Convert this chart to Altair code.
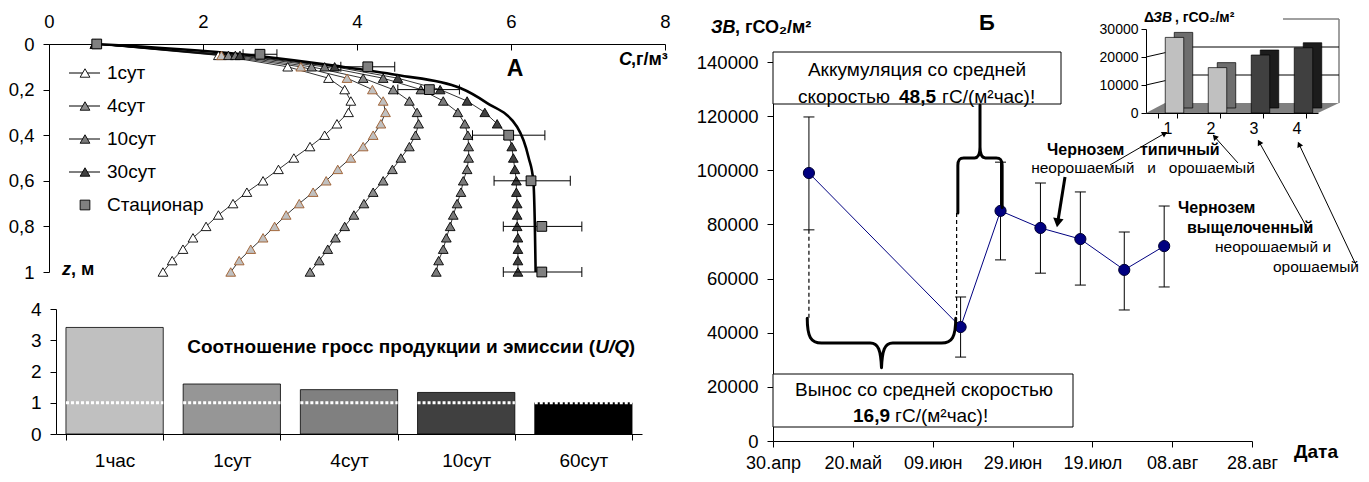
import math
import altair as alt
import pandas as pd

FONT = "Liberation Sans, Arial, DejaVu Sans, sans-serif"
W, H = 1353, 466
ONE = pd.DataFrame({"k": [0]})
NB = "\u00a0"

# ======================= DATA =======================
# Panel A: CO2 concentration C (g/m3) versus depth z (m)
depth_z = [0.0, 0.05, 0.10, 0.15, 0.20, 0.25, 0.30, 0.35, 0.40, 0.45, 0.50,
           0.55, 0.60, 0.65, 0.70, 0.75, 0.80, 0.85, 0.90, 0.95, 1.00]
conc_1sut = [0.6, 2.20, 3.10, 3.63, 3.84, 3.92, 3.89, 3.74, 3.58, 3.39, 3.18,
             2.98, 2.78, 2.57, 2.39, 2.20, 2.04, 1.87, 1.74, 1.60, 1.48]
conc_2sut = [0.6, 2.24, 3.27, 3.87, 4.20, 4.34, 4.37, 4.31, 4.21, 4.08, 3.92,
             3.75, 3.60, 3.43, 3.25, 3.08, 2.93, 2.78, 2.62, 2.47, 2.36]
conc_4sut = [0.6, 2.33, 3.41, 4.08, 4.47, 4.68, 4.78, 4.80, 4.76, 4.68, 4.57,
             4.46, 4.34, 4.21, 4.09, 3.96, 3.84, 3.72, 3.62, 3.51, 3.39]
conc_10sut = [0.6, 2.42, 3.58, 4.34, 4.83, 5.12, 5.31, 5.40, 5.44, 5.45, 5.45,
              5.43, 5.38, 5.35, 5.30, 5.25, 5.21, 5.16, 5.12, 5.06, 5.03]
conc_30sut = [0.6, 2.48, 3.71, 4.53, 5.08, 5.43, 5.66, 5.82, 5.97, 6.01, 6.03,
              6.05, 6.07, 6.07, 6.08, 6.08, 6.08, 6.09, 6.09, 6.09, 6.09]
profile_names = ["1сут", "2сут", "4сут", "10сут", "30сут"]
profile_fill = ["#ffffff", "#c0c0c0", "#8c8c8c", "#7a7a7a", "#404040"]
profile_edge = ["#000000", "#9c5a2a", "#000000", "#000000", "#000000"]

stat_curve_z = [0.0, 0.045, 0.095, 0.136, 0.193, 0.259, 0.364, 0.50, 0.60, 0.80, 1.00]
stat_curve_c = [0.6, 2.50, 3.70, 4.52, 5.34, 5.69, 6.08, 6.23, 6.29, 6.31, 6.32]

stat_obs_z = [0.0, 0.045, 0.10, 0.20, 0.40, 0.60, 0.80, 1.00]
stat_obs_c = [0.62, 2.74, 4.14, 4.94, 5.97, 6.26, 6.40, 6.40]
stat_obs_lo = [0.62, 2.52, 3.79, 4.53, 5.50, 5.78, 5.90, 5.90]
stat_obs_hi = [0.62, 2.96, 4.49, 5.33, 6.44, 6.77, 6.92, 6.92]

legend_names = ["1сут", "4сут", "10сут", "30сут", "Стационар"]
legend_fill = ["#ffffff", "#8c8c8c", "#7a7a7a", "#404040", "#808080"]
legend_shape = ["triangle-up", "triangle-up", "triangle-up", "triangle-up", "square"]

# Ratio of gross production to emission (U/Q)
ratio_cats = ["1час", "1сут", "4сут", "10сут", "60сут"]
ratio_vals = [3.41, 1.60, 1.42, 1.33, 1.00]
ratio_fill = ["#c0c0c0", "#969696", "#808080", "#404040", "#000000"]

# Panel B: CO2 stock
b_dates = ["2007-05-09", "2007-06-16", "2007-06-26", "2007-07-06",
           "2007-07-16", "2007-07-27", "2007-08-06"]
b_values = [99000, 42100, 85000, 78700, 74600, 63200, 72000]
b_lo = [78000, 31000, 66900, 62000, 57600, 48400, 56900]
b_hi = [119700, 53200, 103000, 95300, 92000, 77200, 86800]
b_tick_dates = ["2007-04-30", "2007-05-20", "2007-06-09", "2007-06-29",
                "2007-07-19", "2007-08-08", "2007-08-28"]
b_ticks_y = [0, 20000, 40000, 60000, 80000, 100000, 120000, 140000]
dash_dates = ["2007-05-09", "2007-06-15"]
dash_top = [78000, 84200]
dash_bottom = [45400, 45400]
month_ru = ["янв", "фев", "мар", "апр", "май", "июн",
            "июл", "авг", "сен", "окт", "ноя", "дек"]

# Inset: increment of CO2 stock
inset_cats = ["1", "2", "3", "4"]
inset_vals = [27000, 16200, 20700, 23300]
inset_front = ["#c0c0c0", "#c0c0c0", "#404040", "#404040"]
inset_side = ["#6e6e6e", "#6e6e6e", "#1c1c1c", "#1c1c1c"]
inset_grid = [10000, 20000]


# ======================= HELPERS =======================
def P(v):
    return v - 8


def ax(**kw):
    base = dict(title=None, grid=False, labelFont=FONT, labelColor="#000000",
                domainColor="#000000", tickColor="#000000", domainWidth=1,
                tickWidth=1, labelOverlap=False, labelFlush=False)
    base.update(kw)
    return alt.Axis(**base)


def text(s, x, y, size=18, weight="normal", style="normal", align="left", baseline="middle"):
    return alt.Chart(ONE).mark_text(
        text=s, font=FONT, fontSize=size, fontWeight=weight, fontStyle=style,
        align=align, baseline=baseline, color="#000000"
    ).encode(x=alt.value(P(x)), y=alt.value(P(y)))


def segment(x1, y1, x2, y2, width=1.0, color="#000000"):
    return alt.Chart(ONE).mark_rule(color=color, strokeWidth=width).encode(
        x=alt.value(P(x1)), y=alt.value(P(y1)), x2=alt.value(P(x2)), y2=alt.value(P(y2)))


def arrow(x1, y1, x2, y2, width=1.0, head=40):
    L = math.hypot(x2 - x1, y2 - y1)
    ux, uy = (x2 - x1) / L, (y2 - y1) / L
    r = math.sqrt(head) * 0.4
    cx, cy = x2 - ux * r, y2 - uy * r
    ang = math.degrees(math.atan2(x2 - x1, -(y2 - y1))) % 360
    tip = alt.Chart(ONE).mark_point(shape="triangle-up", filled=True, size=head, angle=ang,
                                    color="#000000", opacity=1).encode(
        x=alt.value(P(cx)), y=alt.value(P(cy)))
    return [segment(x1, y1, cx, cy, width), tip]


def box(x1, y1, x2, y2):
    return alt.Chart(ONE).mark_rect(fill="#ffffff", stroke="#000000", strokeWidth=1).encode(
        x=alt.value(P(x1)), x2=alt.value(P(x2)), y=alt.value(P(y1)), y2=alt.value(P(y2)))


def shape_at(path, cx, cy, side, width=3.0, fill=None):
    if fill:
        m = alt.Chart(ONE).mark_point(shape=path, size=side * side, filled=True, color=fill,
                                      opacity=1, strokeWidth=0)
    else:
        m = alt.Chart(ONE).mark_point(shape=path, size=side * side, filled=False,
                                      color="#000000", strokeWidth=width, opacity=1,
                                      strokeCap="round", strokeJoin="round")
    return m.encode(x=alt.value(P(cx)), y=alt.value(P(cy)))


def dt(s):
    y, m, d = (int(t) for t in s.split("-"))
    return alt.DateTime(year=y, month=m, date=d, utc=True)


layers = []

# ======================= PANEL A =======================
rows = []
for name, series in zip(profile_names, [conc_1sut, conc_2sut, conc_4sut, conc_10sut, conc_30sut]):
    for z, c in zip(depth_z, series):
        rows.append({"series": name, "z": z, "C": c})
prof_df = pd.DataFrame(rows)
stat_df = pd.DataFrame({"z": stat_curve_z, "C": stat_curve_c})
obs_df = pd.DataFrame({"z": stat_obs_z, "C": stat_obs_c, "lo": stat_obs_lo, "hi": stat_obs_hi})

xA = alt.Scale(domain=[0, 8], range=[P(49), P(665)], nice=False, zero=False)
yA = alt.Scale(domain=[0, 1], range=[P(44), P(272)], nice=False, zero=False)

zlab = ("datum.value == 0 ? '0' : datum.value == 1 ? '1' : "
        "replace(format(datum.value, '.1f'), '.', ',')")

layers.append(alt.Chart(prof_df).mark_line(color="#000000", strokeWidth=0.8).encode(
    x=alt.X("C:Q", scale=xA, axis=ax(orient="top", offset=-P(44), values=[0, 2, 4, 6, 8],
                                      ticks=False, labelFontSize=18.5, labelPadding=13)),
    y=alt.Y("z:Q", scale=yA, axis=ax(orient="left", offset=-P(49),
                                      values=[0, 0.2, 0.4, 0.6, 0.8, 1], labelExpr=zlab,
                                      tickSize=6, labelFontSize=18.5, labelPadding=9)),
    detail="series:N", order="z:Q"))
# downward tick marks of the top axis
layers.append(alt.Chart(obs_df).mark_point(opacity=0).encode(
    x=alt.X("C:Q", scale=xA, axis=ax(orient="bottom", offset=P(44) - H, values=[0, 2, 4, 6, 8],
                                      labels=False, domain=False, tickSize=6)),
    y=alt.Y("z:Q", scale=yA, axis=None)))
layers.append(alt.Chart(stat_df).mark_line(color="#000000", strokeWidth=2.6,
                                           interpolate="monotone").encode(
    x=alt.X("C:Q", scale=xA, axis=None), y=alt.Y("z:Q", scale=yA, axis=None), order="z:Q"))
layers.append(alt.Chart(prof_df).mark_point(shape="triangle-up", filled=True, size=95,
                                            strokeWidth=0.9, opacity=1).encode(
    x=alt.X("C:Q", scale=xA, axis=None), y=alt.Y("z:Q", scale=yA, axis=None),
    fill=alt.Fill("series:N", scale=alt.Scale(domain=profile_names, range=profile_fill), legend=None),
    stroke=alt.Stroke("series:N", scale=alt.Scale(domain=profile_names, range=profile_edge), legend=None)))
err_a = alt.Chart(obs_df).transform_filter("datum.hi > datum.lo")
layers.append(err_a.mark_rule(color="#000000", strokeWidth=1).encode(
    x=alt.X("lo:Q", scale=xA, axis=None), x2="hi:Q", y=alt.Y("z:Q", scale=yA, axis=None)))
layers.append(err_a.transform_fold(["lo", "hi"], as_=["end", "cv"]).mark_tick(
    orient="vertical", size=10, thickness=1, color="#000000", opacity=1).encode(
    x=alt.X("cv:Q", scale=xA, axis=None), y=alt.Y("z:Q", scale=yA, axis=None)))
layers.append(alt.Chart(obs_df).mark_square(size=95, fill="#808080", stroke="#000000",
                                            strokeWidth=1, opacity=1).encode(
    x=alt.X("C:Q", scale=xA, axis=None), y=alt.Y("z:Q", scale=yA, axis=None)))

# legend of panel A
leg_df = pd.DataFrame({"name": legend_names})
yLeg = alt.Scale(type="point", domain=legend_names, range=[P(73), P(205)], padding=0)
layers.append(alt.Chart(leg_df).transform_filter("datum.name != 'Стационар'").mark_rule(
    color="#000000", strokeWidth=1).encode(
    x=alt.value(P(69)), x2=alt.value(P(100)), y=alt.Y("name:N", scale=yLeg, axis=None)))
layers.append(alt.Chart(leg_df).mark_point(filled=True, size=95, stroke="#000000",
                                           strokeWidth=0.9, opacity=1).encode(
    x=alt.value(P(85)), y=alt.Y("name:N", scale=yLeg, axis=None),
    fill=alt.Fill("name:N", scale=alt.Scale(domain=legend_names, range=legend_fill), legend=None),
    shape=alt.Shape("name:N", scale=alt.Scale(domain=legend_names, range=legend_shape), legend=None)))
layers.append(alt.Chart(leg_df).mark_text(align="left", baseline="middle", font=FONT,
                                          fontSize=19, color="#000000").encode(
    x=alt.value(P(107)), y=alt.Y("name:N", scale=yLeg, axis=None), text="name:N"))

layers += [
    text("А", 515, 69, size=23, weight="bold", align="center"),
    text("C", 619, 60, size=18, weight="bold", style="italic"),
    text(NB + ",г/м³", 631, 60, size=18, weight="bold"),
    text("z", 62, 270, size=18, weight="bold", style="italic"),
    text(", м", 71, 270, size=18, weight="bold"),
]

# ======================= RATIO BARS =======================
ratio_df = pd.DataFrame({"cat": ratio_cats, "val": ratio_vals})
xR = alt.Scale(domain=ratio_cats, range=[P(56), P(642)], paddingInner=0.17, paddingOuter=0.085)
yR = alt.Scale(domain=[0, 4], range=[P(434), P(309)], nice=False, zero=False)
layers.append(alt.Chart(ratio_df).mark_bar(stroke="#000000", strokeWidth=0.8).encode(
    x=alt.X("cat:N", sort=ratio_cats, scale=xR,
            axis=ax(orient="bottom", offset=P(434) - H, tickBand="extent", tickSize=6,
                    labelFontSize=19, labelPadding=11, labelAngle=0)),
    y=alt.Y("val:Q", scale=yR, axis=ax(orient="left", offset=-P(56), values=[0, 1, 2, 3, 4],
                                        tickSize=6, labelFontSize=19, labelPadding=9)),
    fill=alt.Fill("cat:N", scale=alt.Scale(domain=ratio_cats, range=ratio_fill), legend=None)))
layers.append(alt.Chart(ratio_df).transform_calculate(one="1").mark_rule(
    color="#ffffff", strokeWidth=3, strokeDash=[3, 2]).encode(
    x=alt.X("cat:N", sort=ratio_cats, scale=xR, axis=None, bandPosition=0),
    x2=alt.X2("cat:N", bandPosition=1),
    y=alt.Y("one:Q", scale=yR, axis=None)))
layers += [
    text("Соотношение гросс продукции и эмиссии (", 595, 347, size=19, weight="bold", align="right"),
    text("U/Q", 629, 347, size=19, weight="bold", style="italic", align="right"),
    text(")", 635, 347, size=19, weight="bold", align="right"),
]

# ======================= PANEL B =======================
b_df = pd.DataFrame({"date": b_dates, "zb": b_values, "lo": b_lo, "hi": b_hi})
dash_df = pd.DataFrame({"date": dash_dates, "top": dash_top, "bottom": dash_bottom})
xB = alt.Scale(type="utc", domain=[dt(b_tick_dates[0]), dt(b_tick_dates[-1])],
               range=[P(773), P(1252)], nice=False)
yB = alt.Scale(domain=[0, 140000], range=[P(441), P(62)], nice=False, zero=False)
months_expr = "[" + ",".join("'%s'" % m for m in month_ru) + "]"
date_lab = "utcFormat(datum.value, '%d') + '.' + " + months_expr + "[utcmonth(datum.value)]"

# text boxes
layers += [box(773, 52, 1061, 104), box(773, 374, 1073, 427)]

layers.append(alt.Chart(dash_df).mark_rule(color="#000000", strokeWidth=1.2,
                                           strokeDash=[4, 3]).encode(
    x=alt.X("date:T", scale=xB, axis=None),
    y=alt.Y("top:Q", scale=yB, axis=None), y2="bottom:Q"))
layers.append(alt.Chart(b_df).mark_rule(color="#000000", strokeWidth=1).encode(
    x=alt.X("date:T", scale=xB,
            axis=ax(orient="bottom", offset=P(441) - H, values=[dt(d) for d in b_tick_dates],
                    labelExpr=date_lab, tickSize=6, labelFontSize=18, labelPadding=7)),
    y=alt.Y("lo:Q", scale=yB,
            axis=ax(orient="left", offset=-P(773), values=b_ticks_y, format="d",
                    tickSize=6, labelFontSize=18.5, labelPadding=9)),
    y2="hi:Q"))
layers.append(alt.Chart(b_df).transform_fold(["lo", "hi"], as_=["end", "ev"]).mark_tick(
    orient="horizontal", size=11, thickness=1, color="#000000", opacity=1).encode(
    x=alt.X("date:T", scale=xB, axis=None), y=alt.Y("ev:Q", scale=yB, axis=None)))
layers.append(alt.Chart(b_df).mark_line(color="#000080", strokeWidth=1).encode(
    x=alt.X("date:T", scale=xB, axis=None), y=alt.Y("zb:Q", scale=yB, axis=None)))
layers.append(alt.Chart(b_df).mark_point(filled=True, size=125, fill="#000080",
                                         stroke="#000033", strokeWidth=1, opacity=1).encode(
    x=alt.X("date:T", scale=xB, axis=None), y=alt.Y("zb:Q", scale=yB, axis=None)))

# curly braces
lower_brace = ("M-0.99,-0.33 C-0.99,-0.08 -0.94,0 -0.8,0 L-0.15,0 C-0.04,0 -0.01,0.1 0,0.33 "
               "C0.01,0.1 0.04,0 0.15,0 L0.8,0 C0.94,0 0.99,-0.08 0.99,-0.33")
upper_brace = ("M-0.41,1 L-0.41,0.12 C-0.41,0.02 -0.38,-0.02 -0.3,-0.02 L-0.1,-0.02 "
               "C-0.03,-0.02 0,-0.1 0,-0.22 L0,-1 M0,-0.22 C0,-0.1 0.03,-0.02 0.1,-0.02 "
               "L0.3,-0.02 C0.38,-0.02 0.41,0.02 0.41,0.12 L0.41,0.9")
layers += [shape_at(lower_brace, 881.5, 343, 150, width=3),
           shape_at(upper_brace, 980, 159, 108, width=3)]

layers += [
    text("Аккумуляция со средней", 917, 70, size=19, align="center"),
    text("скоростью", 798, 97, size=19),
    text("48,5", 899, 97, size=19, weight="bold"),
    text("гС/(м²час)!", 942, 97, size=19),
    text("Вынос со средней скоростью", 924, 390, size=19, align="center"),
    text("16,9", 853, 416, size=19, weight="bold"),
    text("гС/(м²час)!", 895, 416, size=19),
    text("ЗВ", 711, 28, size=18, weight="bold", style="italic"),
    text(", гСО₂/м²", 735, 28, size=18, weight="bold"),
    text("Б", 987, 23, size=22, weight="bold", align="center"),
    text("Дата", 1294, 452, size=19, weight="bold"),
    text("Чернозем", 1047, 150, size=16, weight="bold"),
    text("типичный", 1140, 150, size=16, weight="bold"),
    text("неорошаемый" + NB * 3 + "и" + NB * 3 + "орошаемый", 1143, 168, size=15.5, align="center"),
    text("Чернозем", 1178, 208, size=16, weight="bold"),
    text("выщелоченный", 1187, 228, size=16, weight="bold"),
    text("неорошаемый и", 1215, 247, size=15.5),
    text("орошаемый", 1273, 267, size=15.5),
]

# ======================= INSET =======================
inset_df = pd.DataFrame({"cat": inset_cats, "val": inset_vals})
grid_df = pd.DataFrame({"g": inset_grid})
xIn = alt.Scale(domain=inset_cats, range=[P(1146), P(1318)], paddingInner=0.57, paddingOuter=0.285)
yIn = alt.Scale(domain=[0, 30000], range=[P(113), P(29)], nice=False, zero=False)

floor_path = "M-1,0.052 L0.782,0.052 L1,-0.052 L-0.803,-0.052 Z"
layers.append(shape_at(floor_path, 1242.5, 108, 193, fill="#808080"))
layers += [segment(1283, 19, 1339, 19, 1.5, "#808080"), segment(1339, 19, 1339, 103, 1.5, "#808080")]
layers.append(alt.Chart(grid_df).mark_rule(color="#000000", strokeWidth=1, yOffset=-10).encode(
    x=alt.value(P(1190)), x2=alt.value(P(1339)), y=alt.Y("g:Q", scale=yIn, axis=None)))
layers.append(alt.Chart(grid_df).mark_rule(color="#000000", strokeWidth=1, y2Offset=-10).encode(
    x=alt.value(P(1146)), x2=alt.value(P(1190)), y=alt.Y("g:Q", scale=yIn, axis=None), y2="g:Q"))
layers.append(alt.Chart(inset_df).mark_bar(xOffset=16, yOffset=-5, y2Offset=-5,
                                           stroke="#000000", strokeWidth=0.7).encode(
    x=alt.X("cat:N", sort=inset_cats, scale=xIn, axis=None),
    y=alt.Y("val:Q", scale=yIn, axis=None),
    fill=alt.Fill("cat:N", scale=alt.Scale(domain=inset_cats, range=inset_side), legend=None)))
layers.append(alt.Chart(inset_df).mark_bar(xOffset=7, stroke="#000000", strokeWidth=0.7).encode(
    x=alt.X("cat:N", sort=inset_cats, scale=xIn,
            axis=ax(orient="bottom", offset=P(113) - H, tickBand="extent", tickSize=5,
                    labelFontSize=16, labelPadding=2, labelAngle=0)),
    y=alt.Y("val:Q", scale=yIn,
            axis=ax(orient="left", offset=-P(1146), values=[0, 10000, 20000, 30000], format="d",
                    tickSize=5, labelFontSize=14, labelPadding=3)),
    fill=alt.Fill("cat:N", scale=alt.Scale(domain=inset_cats, range=inset_front), legend=None)))
layers += [
    text("Δ", 1144, 18, size=14, weight="bold"),
    text("ЗВ", 1153, 18, size=14, weight="bold", style="italic"),
    text(NB + ", гСО₂/м²", 1175, 18, size=14, weight="bold"),
]

# arrows
layers += arrow(1110, 165, 1167, 132)
layers += arrow(1238, 163, 1213, 135)
layers += arrow(1310, 233, 1258, 140)
layers += arrow(1357, 267, 1298, 142)
layers += arrow(1065, 177, 1057, 227, width=3, head=110)

chart = alt.layer(*layers).resolve_scale(
    x="independent", y="independent", fill="independent", stroke="independent", shape="independent"
).properties(
    width=W, height=H, autosize=alt.AutoSizeParams(type="none"), padding=0, background="#ffffff"
).configure_view(stroke=None)

chart.save("out.html", embed_options={"renderer": "svg", "actions": False})
